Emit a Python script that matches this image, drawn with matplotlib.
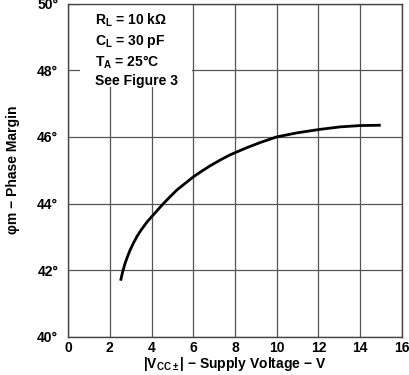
import matplotlib
matplotlib.use("Agg")
import matplotlib.pyplot as plt
from matplotlib.patches import Rectangle

plt.rcParams['font.family'] = ['Liberation Sans', 'DejaVu Sans']
plt.rcParams['font.weight'] = 'bold'
plt.rcParams['mathtext.fontset'] = 'custom'
plt.rcParams['mathtext.rm'] = 'Liberation Sans:bold'
plt.rcParams['mathtext.it'] = 'Liberation Sans:bold'
plt.rcParams['mathtext.bf'] = 'Liberation Sans:bold'
plt.rcParams['mathtext.sf'] = 'Liberation Sans:bold'

vcc = [2.52, 2.62, 2.73, 2.85, 2.97, 3.13, 3.29, 3.45, 3.61, 3.8, 4.0, 4.28, 4.57, 4.88,
       5.2, 5.6, 6.0, 6.4, 6.8, 7.3, 7.76, 8.5, 9.2, 10.0, 10.96, 12.0, 13.03, 14.0, 14.98]
phase = [41.69, 41.96, 42.2, 42.41, 42.6, 42.81, 43.0, 43.16, 43.3, 43.46, 43.6, 43.8,
         44.0, 44.2, 44.4, 44.6, 44.8, 44.97, 45.13, 45.31, 45.46, 45.66, 45.83, 46.0,
         46.12, 46.22, 46.3, 46.34, 46.35]

xticks = [0, 2, 4, 6, 8, 10, 12, 14, 16]
yticks = [40, 42, 44, 46, 48, 50]
ytick_labels = ['40°', '42°', '44°', '46°', '48°', '50°']

fig = plt.figure(figsize=(4.1, 3.75), dpi=100)
ax = fig.add_axes([68/410, 1-337/375, (402-68)/410, (337-3.5)/375])

ax.plot(vcc, phase, color='black', lw=2.0, solid_capstyle='butt',
        solid_joinstyle='round', zorder=3)

ax.set_xlim(0, 16)
ax.set_ylim(40, 50)
ax.set_xticks(xticks)
ax.set_yticks(yticks)
ax.set_yticklabels(ytick_labels)
ax.tick_params(length=0, labelsize=10)
ax.tick_params(axis='x', pad=3)
ax.tick_params(axis='y', pad=7)
ax.grid(True, color='#555555', lw=0.9)
for s in ax.spines.values():
    s.set_color('#444444')
    s.set_linewidth(1.0)
    s.set_zorder(5)

ax.set_xlabel('|V$_{\\mathregular{CC\\pm}}$| − Supply Voltage − V', fontsize=10,
              fontweight='bold', labelpad=0)
ax.set_ylabel('φm − Phase Margin', fontsize=10, fontweight='bold', labelpad=12)

# white panel behind the condition notes
ax.add_patch(Rectangle((0.57, 47.49), 5.35, 2.6, facecolor='white', edgecolor='none',
                       zorder=2.5, clip_on=True))

txt = ('R$_\\mathregular{L}$ = 10 kΩ\n'
       'C$_\\mathregular{L}$ = 30 pF\n'
       'T$_\\mathregular{A}$ = 25°C\n'
       'See Figure 3')
ax.text(1.28, 49.75, txt, fontsize=10, fontweight='bold',
        va='top', ha='left', linespacing=1.3, zorder=4)

fig.savefig('out.png', dpi=100)
